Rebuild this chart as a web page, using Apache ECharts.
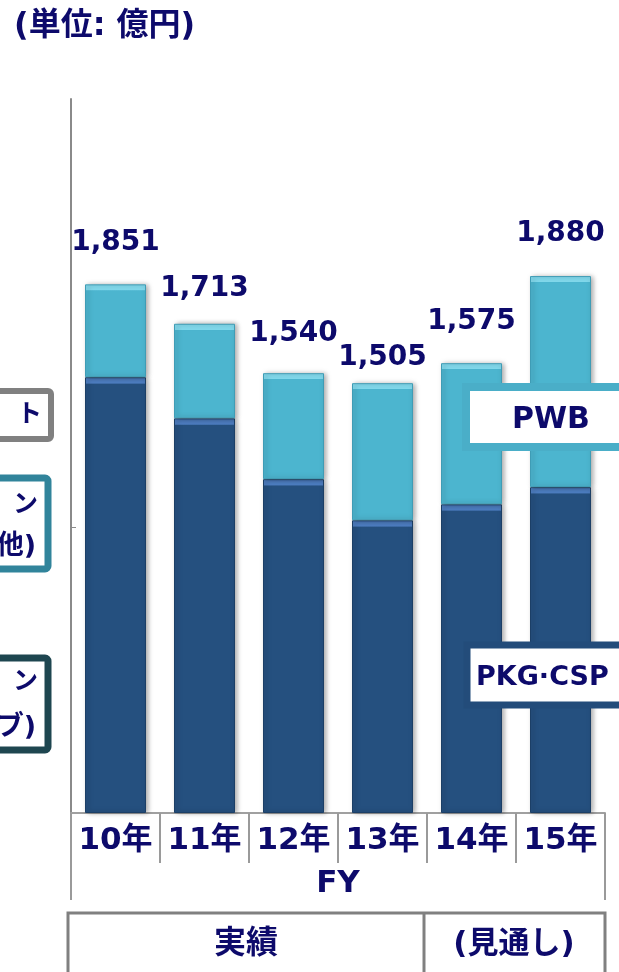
<!DOCTYPE html>
<html><head><meta charset="utf-8">
<script src="https://cdn.jsdelivr.net/npm/echarts@6/dist/echarts.min.js"></script>
<style>html,body{margin:0;padding:0;background:#fff}#c{width:619px;height:972px}</style>
</head><body><div id="c"></div>
<script>
const categories = ['10年','11年','12年','13年','14年','15年'];
const totals = [1851, 1713, 1540, 1505, 1575, 1880];
const pkgCsp = [1526, 1382, 1169, 1025, 1081, 1141];
const pwb = [325, 331, 371, 480, 494, 739];

const NAVY = '#0d0a6b';
const FONT = '"DejaVu Sans", "Noto Sans CJK JP", sans-serif';
const chart = echarts.init(document.getElementById('c'), null, {renderer: 'canvas'});

const AX_MAX = 2500, PLOT_H = 714;
function bevel(v, top, main) {
  const f = Math.min(0.5, 6 / (v * PLOT_H / AX_MAX));
  return new echarts.graphic.LinearGradient(0, 0, 0, 1, [
    {offset: 0, color: top}, {offset: f, color: top},
    {offset: Math.min(1, f + 0.002), color: main}, {offset: 1, color: main}
  ]);
}
const labelDist = [28, 21, 25, 11, 27, 28];

const option = {
  animation: false,
  grid: {left: 71, right: 14, top: 99, bottom: 159, containLabel: false},
  xAxis: {
    type: 'category', data: categories,
    axisLine: {lineStyle: {color: '#a0a0a0', width: 2}},
    axisTick: {show: true, interval: 0, length: 50, lineStyle: {color: '#9a9a9a', width: 2}},
    axisLabel: {color: NAVY, fontSize: 31, fontWeight: 'bold', fontFamily: FONT, margin: 12, interval: 0},
    name: 'FY', nameLocation: 'middle', nameGap: 55,
    nameTextStyle: {color: NAVY, fontSize: 31, fontWeight: 'bold', fontFamily: FONT}
  },
  yAxis: {
    type: 'value', min: 0, max: AX_MAX, interval: 1000,
    axisLine: {show: true, lineStyle: {color: '#8a8a8a', width: 2}},
    axisTick: {show: true, inside: true, length: 5, customValues: [1000], lineStyle: {color: '#8a8a8a'}},
    axisLabel: {show: false},
    splitLine: {show: false}
  },
  series: [
    {
      name: 'PKG·CSP', type: 'bar', stack: 't', barWidth: 61,
      data: pkgCsp.map(v => ({value: v, itemStyle: {color: bevel(v, '#4d7dc0', '#25507f')}})),
      itemStyle: {borderColor: '#1c3f66', borderWidth: 1, shadowBlur: 5, shadowColor: 'rgba(0,0,0,0.35)', shadowOffsetX: 2}
    },
    {
      name: 'PWB', type: 'bar', stack: 't', barWidth: 61,
      data: pwb.map((v, i) => ({value: v, itemStyle: {color: bevel(v, '#82d9ec', '#4cb5cf')}, label: {distance: labelDist[i]}})),
      itemStyle: {borderColor: '#3f9cb5', borderWidth: 1, shadowBlur: 5, shadowColor: 'rgba(0,0,0,0.35)', shadowOffsetX: 2},
      label: {
        show: true, position: 'top', color: NAVY, fontSize: 28, fontWeight: 'bold', fontFamily: FONT,
        formatter: p => totals[p.dataIndex].toLocaleString('en-US')
      }
    }
  ],
  graphic: [
    {type: 'text', left: 14, top: 11, style: {text: '(単位: 億円)', fill: NAVY, font: 'bold 32px ' + FONT}},
    // FY bracket outer lines
    {type: 'line', shape: {x1: 71, y1: 813, x2: 71, y2: 900}, style: {stroke: '#9a9a9a', lineWidth: 2}},
    {type: 'line', shape: {x1: 605, y1: 813, x2: 605, y2: 900}, style: {stroke: '#9a9a9a', lineWidth: 2}},
    // bottom table
    {type: 'rect', shape: {x: 68, y: 913, width: 537, height: 80}, style: {fill: 'none', stroke: '#808080', lineWidth: 3}},
    {type: 'line', shape: {x1: 424, y1: 913, x2: 424, y2: 972}, style: {stroke: '#808080', lineWidth: 3}},
    {type: 'text', x: 246, y: 945, style: {text: '実績', fill: NAVY, font: 'bold 32px ' + FONT, align: 'center', verticalAlign: 'middle'}},
    {type: 'text', x: 514, y: 945, style: {text: '(見通し)', fill: NAVY, font: 'bold 31px ' + FONT, align: 'center', verticalAlign: 'middle'}},
    // right legend boxes
    {type: 'rect', shape: {x: 466, y: 387, width: 170, height: 60}, style: {fill: '#fff', stroke: '#4aaec8', lineWidth: 8}, z: 10},
    {type: 'text', x: 551, y: 420, style: {text: 'PWB', fill: NAVY, font: 'bold 30px ' + FONT, align: 'center', verticalAlign: 'middle'}, z: 11},
    {type: 'rect', shape: {x: 467, y: 645, width: 170, height: 60}, style: {fill: '#fff', stroke: '#234c7a', lineWidth: 7}, z: 10},
    {type: 'text', x: 476, y: 678, style: {text: 'PKG·CSP', fill: NAVY, font: 'bold 27px ' + FONT, align: 'left', verticalAlign: 'middle'}, z: 11},
    // left cropped legend boxes
    {type: 'rect', shape: {x: -20, y: 391, width: 71, height: 48, r: 3}, style: {fill: '#fff', stroke: '#808080', lineWidth: 6}},
    {type: 'text', x: 42, y: 415, style: {text: 'ト', fill: NAVY, font: 'bold 25px ' + FONT, align: 'right', verticalAlign: 'middle'}},
    {type: 'rect', shape: {x: -20, y: 478, width: 68, height: 91, r: 3}, style: {fill: '#fff', stroke: '#31849b', lineWidth: 7}},
    {type: 'text', x: 38, y: 505, style: {text: 'ン', fill: NAVY, font: 'bold 25px ' + FONT, align: 'right', verticalAlign: 'middle'}},
    {type: 'text', x: 36, y: 547, style: {text: '他)', fill: NAVY, font: 'bold 27px ' + FONT, align: 'right', verticalAlign: 'middle'}},
    {type: 'rect', shape: {x: -20, y: 658, width: 68, height: 92, r: 3}, style: {fill: '#fff', stroke: '#1e4650', lineWidth: 7}},
    {type: 'text', x: 38, y: 682, style: {text: 'ン', fill: NAVY, font: 'bold 25px ' + FONT, align: 'right', verticalAlign: 'middle'}},
    {type: 'text', x: 36, y: 728, style: {text: 'ブ)', fill: NAVY, font: 'bold 27px ' + FONT, align: 'right', verticalAlign: 'middle'}}
  ]
};
chart.setOption(option);
</script></body></html>
